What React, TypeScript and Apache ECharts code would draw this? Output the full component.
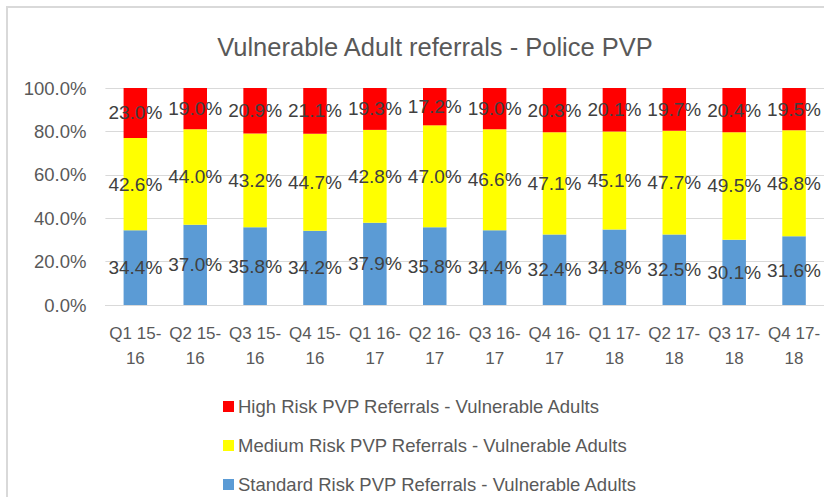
import React, { useEffect, useRef } from "react";
import * as echarts from "echarts";

const categories = [
  "Q1 15-\n16", "Q2 15-\n16", "Q3 15-\n16", "Q4 15-\n16",
  "Q1 16-\n17", "Q2 16-\n17", "Q3 16-\n17", "Q4 16-\n17",
  "Q1 17-\n18", "Q2 17-\n18", "Q3 17-\n18", "Q4 17-\n18",
];
const standardRisk = [34.4, 37.0, 35.8, 34.2, 37.9, 35.8, 34.4, 32.4, 34.8, 32.5, 30.1, 31.6];
const mediumRisk = [42.6, 44.0, 43.2, 44.7, 42.8, 47.0, 46.6, 47.1, 45.1, 47.7, 49.5, 48.8];
const highRisk = [23.0, 19.0, 20.9, 21.1, 19.3, 17.2, 19.0, 20.3, 20.1, 19.7, 20.4, 19.5];
const yTicks = [0, 20, 40, 60, 80, 100];

const seriesNames = [
  "High Risk PVP Referrals - Vulnerable Adults",
  "Medium Risk PVP Referrals - Vulnerable Adults",
  "Standard Risk PVP Referrals - Vulnerable Adults",
];

const FONT = "Liberation Sans";

export default function App() {
  const ref = useRef<HTMLDivElement>(null);
  useEffect(() => {
    if (!ref.current) return;
    const chart = echarts.init(ref.current, undefined, { renderer: "svg" });
    const totals = standardRisk.map((s, i) => s + mediumRisk[i] + highRisk[i]);
    const mk = (name: string, arr: number[], color: string) => ({
      name,
      type: "bar",
      stack: "total",
      barWidth: 23.5,
      itemStyle: { color },
      data: arr.map((v, i) => (v / totals[i]) * 100),
      label: {
        show: true,
        position: "inside",
        color: "#404040",
        fontFamily: FONT,
        fontSize: 19,
        formatter: (p: any) => arr[p.dataIndex].toFixed(1) + "%",
      },
    });
    chart.setOption({
      animation: false,
      title: {
        text: "Vulnerable Adult referrals - Police PVP",
        left: 430,
        textAlign: "center",
        top: 29,
        textStyle: { color: "#595959", fontFamily: FONT, fontSize: 25.5, fontWeight: "normal" },
      },
      graphic: [
        {
          type: "rect",
          shape: { x: 7, y: 7, width: 900, height: 600 },
          style: { fill: "none", stroke: "#d9d9d9", lineWidth: 2 },
          silent: true,
        },
      ],
      legend: {
        orient: "vertical",
        left: 223,
        top: 397,
        padding: 0,
        itemWidth: 11,
        itemHeight: 11,
        itemGap: 20,
        icon: "rect",
        data: seriesNames,
        textStyle: { color: "#595959", fontFamily: FONT, fontSize: 18.5, lineHeight: 19, padding: [0, 0, 0, -1] },
      },
      grid: { left: 105.4, top: 88, width: 723.6, height: 217 },
      xAxis: {
        type: "category",
        data: categories,
        axisLine: { lineStyle: { color: "#d9d9d9" } },
        axisTick: { show: false },
        axisLabel: {
          interval: 0,
          color: "#595959",
          fontFamily: FONT,
          fontSize: 17,
          lineHeight: 25,
          margin: 16,
        },
      },
      yAxis: {
        type: "value",
        min: yTicks[0],
        max: yTicks[yTicks.length - 1],
        interval: 20,
        axisLine: { show: false },
        axisTick: { show: false },
        splitLine: { lineStyle: { color: "#d9d9d9" } },
        axisLabel: {
          color: "#595959",
          fontFamily: FONT,
          fontSize: 18.5,
          margin: 19,
          formatter: (v: number) => v.toFixed(1) + "%",
        },
      },
      series: [
        mk(seriesNames[2], standardRisk, "#5b9bd5"),
        mk(seriesNames[1], mediumRisk, "#ffff00"),
        mk(seriesNames[0], highRisk, "#ff0000"),
      ],
    });
    return () => chart.dispose();
  }, []);
  return (
    <div
      ref={ref}
      style={{ position: "fixed", left: 0, top: 0, width: 824, height: 497, background: "#ffffff" }}
    />
  );
}
